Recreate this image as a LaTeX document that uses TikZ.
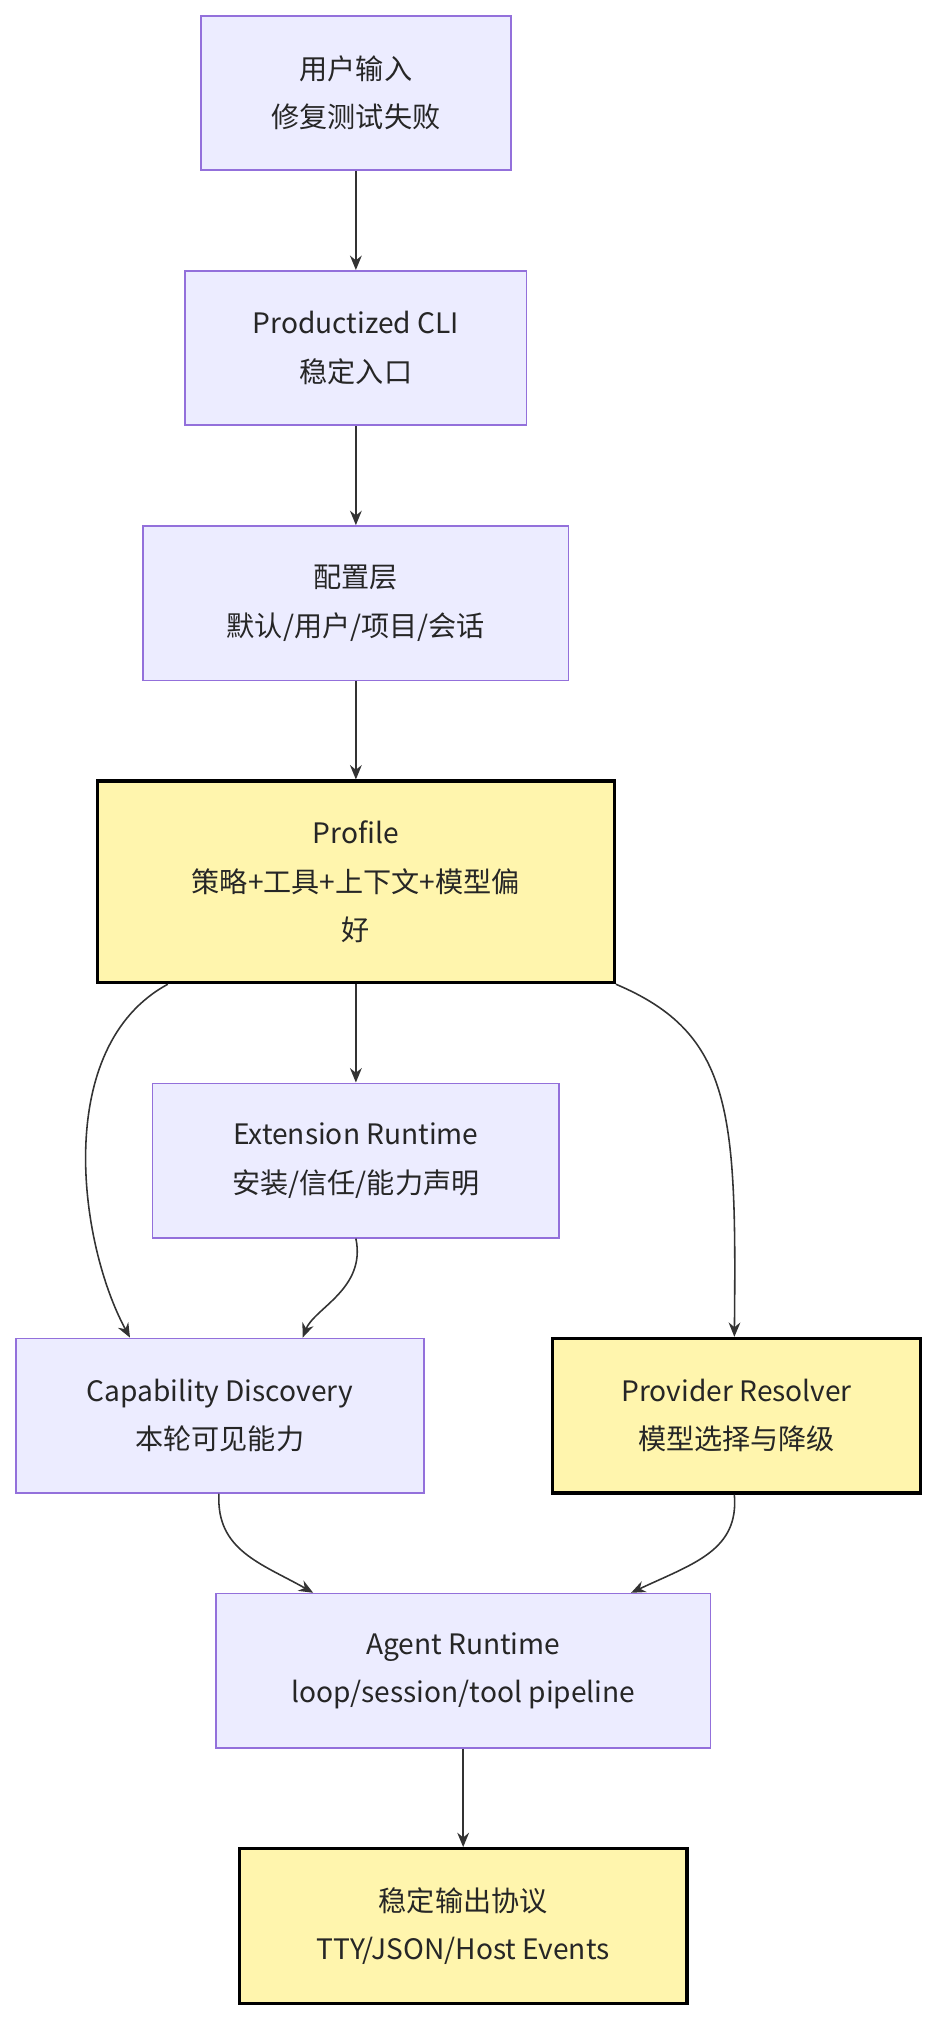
\documentclass[tikz,border=0pt]{standalone}
\usepackage{fontspec}
\setmainfont{Noto Sans CJK SC}
\usetikzlibrary{arrows.meta,calc}
\definecolor{pfill}{HTML}{ECECFF}
\definecolor{pbord}{HTML}{9370DB}
\definecolor{yfill}{HTML}{FFF5AD}
\definecolor{edge}{HTML}{333333}
\begin{document}
\begin{tikzpicture}[x=1pt,y=-1pt,
 box/.style={draw=pbord,fill=pfill,line width=1.3pt,align=center,font=\fontsize{21.5}{37}\selectfont,text=black!85,inner sep=0pt},
 ybox/.style={box,draw=black,fill=yfill,line width=2.5pt},
 ar/.style={draw=edge,line width=1.2pt,-{Stealth[length=11pt,width=9pt]}}]
\useasboundingbox (0,0) rectangle (720,1550);
\node[box,minimum width=237,minimum height=118] (a) at (272,71) {用户输入\\修复测试失败};
\node[box,minimum width=261,minimum height=118] (b) at (272,266) {Productized CLI\\稳定入口};
\node[box,minimum width=325,minimum height=118] (c) at (272,461) {配置层\\默认/用户/项目/会话};
\node[ybox,minimum width=395,minimum height=154] (d) at (272,674) {Profile\\策略+工具+上下文+模型偏\\好};
\node[box,minimum width=311,minimum height=118] (e) at (272,887) {Extension Runtime\\安装/信任/能力声明};
\node[box,minimum width=312,minimum height=118] (f) at (168,1082) {Capability Discovery\\本轮可见能力};
\node[ybox,minimum width=281,minimum height=118] (g) at (563,1082) {Provider Resolver\\模型选择与降级};
\node[box,minimum width=378,minimum height=118] (h) at (354,1277) {Agent Runtime\\loop/session/tool pipeline};
\node[ybox,minimum width=342,minimum height=118] (i) at (354,1472) {稳定输出协议\\TTY/JSON/Host Events};
\draw[ar] (a) -- (b);
\draw[ar] (b) -- (c);
\draw[ar] (c) -- (d);
\draw[ar] (d) -- (e);
\draw[ar] ($(d.south west)+(55,0)$) .. controls (40,800) and (60,950) .. ($(f.north west)+(88,0)$);
\draw[ar] ($(d.south east)+(0,0)$) .. controls (560,790) and (563,850) .. ($(g.north west)+(140,0)$);
\draw[ar] (e.south) .. controls (280,985) and (240,1000) .. ($(f.north west)+(220,0)$);
\draw[ar] ($(f.south west)+(156,0)$) .. controls (165,1185) and (200,1195) .. ($(h.north west)+(75,0)$);
\draw[ar] ($(g.south west)+(140,0)$) .. controls (565,1185) and (530,1195) .. ($(h.north west)+(318,0)$);
\draw[ar] (h) -- (i);
\end{tikzpicture}
\end{document}
